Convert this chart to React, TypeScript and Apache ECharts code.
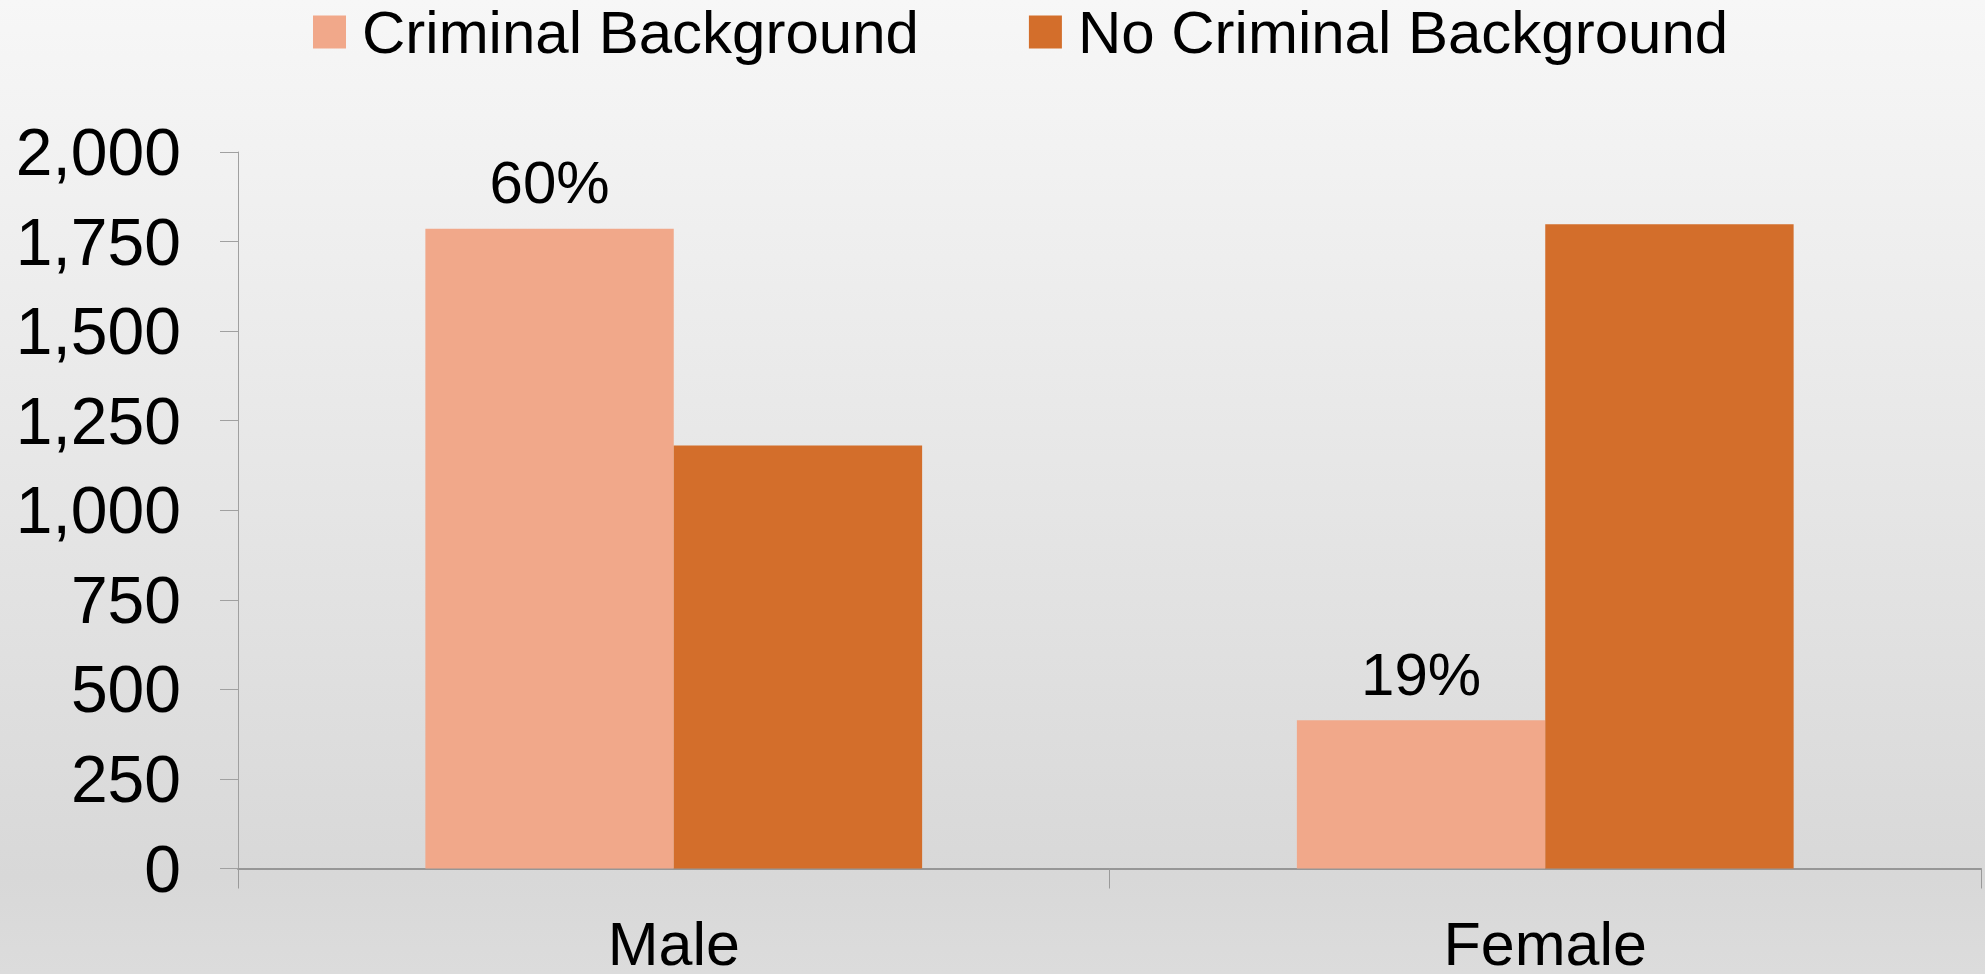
import React, { useEffect, useRef } from "react";
import * as echarts from "echarts";

const categories = ["Male", "Female"];
const seriesNames = ["Criminal Background", "No Criminal Background"];
const criminalValues = [1786, 414];
const noCriminalValues = [1181, 1798];
const percentLabels = ["60%", "19%"];
const yTicks = { min: 0, max: 2000, interval: 250 };

const FONT = '"Liberation Sans", Arial, sans-serif';

export default function App() {
  const ref = useRef<HTMLDivElement>(null);
  useEffect(() => {
    if (!ref.current) return;
    const chart = echarts.init(ref.current, undefined, { renderer: "svg" });
    chart.setOption({
      animation: false,
      backgroundColor: "transparent",
      textStyle: { fontFamily: FONT, color: "#000" },
      legend: {
        left: 308,
        top: -3,
        itemWidth: 33,
        itemHeight: 33,
        itemGap: 110,
        icon: "rect",
        textStyle: { fontFamily: FONT, fontSize: 60, color: "#000", padding: [0, 0, 0, 11] },
        data: seriesNames,
      },
      grid: { left: 238, right: 4, top: 152, bottom: 96, containLabel: false },
      xAxis: {
        type: "category",
        data: categories,
        axisLine: { show: true, lineStyle: { color: "#969696", width: 2 } },
        axisTick: { show: true, length: 20, lineStyle: { color: "#9a9a9a", width: 1 }, alignWithLabel: false },
        axisLabel: { fontFamily: FONT, fontSize: 61, lineHeight: 40, color: "#000", margin: 55 },
        splitLine: { show: false },
      },
      yAxis: {
        type: "value",
        min: yTicks.min,
        max: yTicks.max,
        interval: yTicks.interval,
        axisLine: { show: true, lineStyle: { color: "#a0a0a0", width: 1 } },
        axisTick: { show: true, inside: false, length: 18, lineStyle: { color: "#a0a0a0", width: 1 } },
        axisLabel: {
          fontFamily: FONT,
          fontSize: 66,
          color: "#000",
          margin: 57,
          formatter: (v: number) => v.toLocaleString("en-US"),
        },
        splitLine: { show: false },
      },
      series: [
        {
          name: seriesNames[0],
          type: "bar",
          data: criminalValues,
          barGap: "0%",
          barCategoryGap: "43%",
          itemStyle: { color: "#F1A88A" },
          label: {
            show: true,
            position: "top",
            distance: 16,
            fontFamily: FONT,
            fontSize: 60,
            color: "#000",
            formatter: (p: any) => percentLabels[p.dataIndex],
          },
        },
        {
          name: seriesNames[1],
          type: "bar",
          data: noCriminalValues,
          barGap: "0%",
          barCategoryGap: "43%",
          itemStyle: { color: "#D36E2B" },
        },
      ],
    });
    return () => chart.dispose();
  }, []);
  return (
    <div
      style={{
        position: "fixed",
        left: 0,
        top: 0,
        width: 1985,
        height: 974,
        background: "linear-gradient(to bottom, #f7f7f7 0%, #e6e6e6 50%, #d8d8d8 90%, #dcdcdc 100%)",
      }}
    >
      <div ref={ref} style={{ width: 1985, height: 974 }} />
    </div>
  );
}
